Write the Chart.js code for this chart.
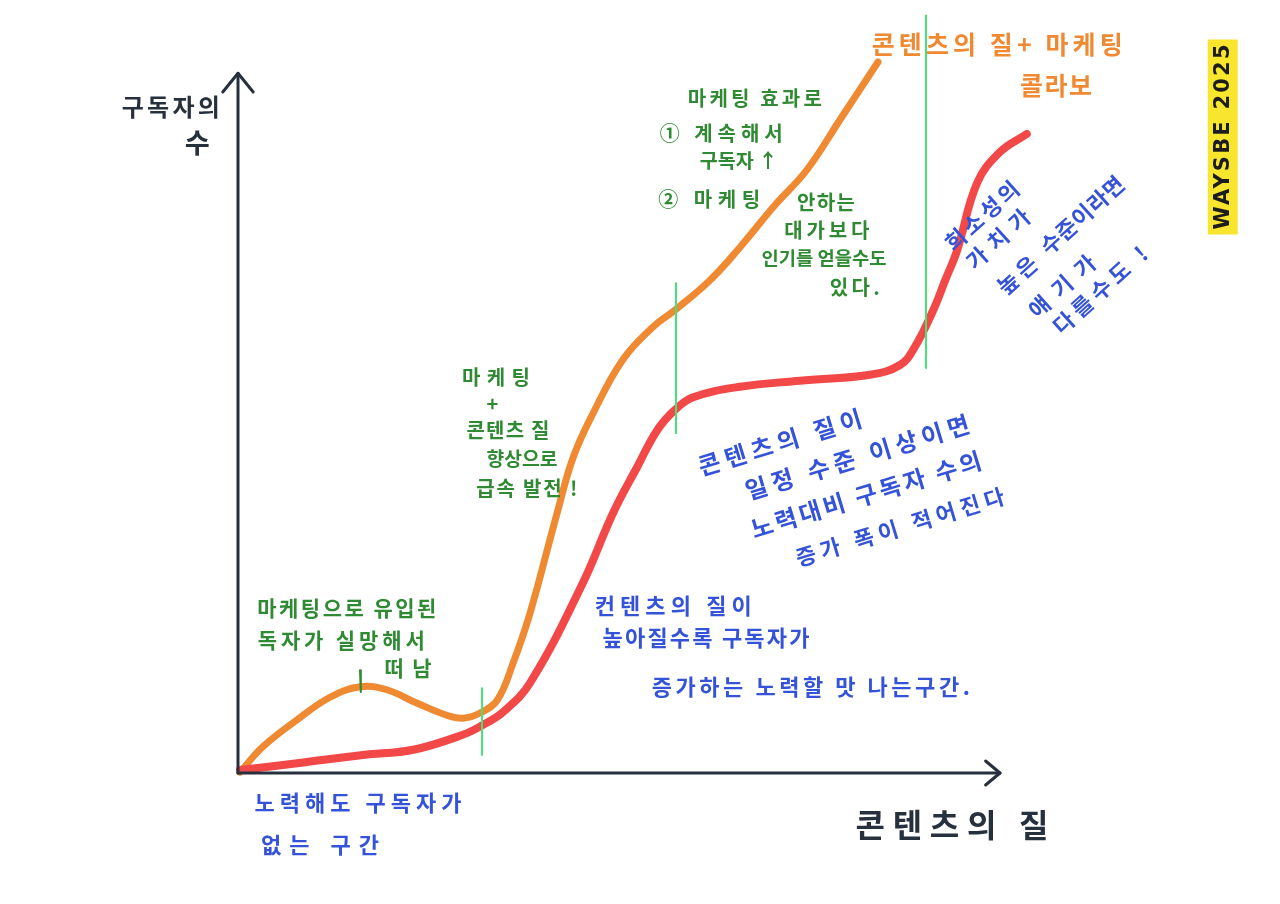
<!DOCTYPE html>
<html>
<head>
<meta charset="utf-8">
<script src="https://cdn.jsdelivr.net/npm/chart.js@4"></script>
<style>
  html, body { margin: 0; padding: 0; background: #ffffff; }
  canvas { display: block; }
</style>
</head>
<body>
<canvas id="chart" width="1280" height="904"></canvas>
<script>
// content quality (x) vs number of subscribers (y), both 0..100

// quality + marketing collab (orange)
var orangeX = [0.25, 3.1, 7.4, 11.5, 15.25, 18.6, 22.4, 26.1, 28.1, 30.25, 32.4, 34.4, 36.5, 39.9, 41.9, 44.4, 48.1, 51.9, 54.6, 59.0, 62.75, 67.1, 71.1, 75.25, 80.0];
var orangeY = [0.1, 3.5, 7.1, 10.1, 11.5, 11.1, 9.3, 7.7, 7.3, 8.0, 9.7, 14.7, 21.3, 34.7, 42.1, 48.0, 55.1, 59.5, 61.7, 65.7, 70.1, 75.7, 80.4, 87.1, 94.8];

// content quality only (red)
var redX = [0.25, 7.4, 15.6, 21.9, 28.1, 30.6, 33.1, 36.5, 43.0, 46.9, 49.9, 52.4, 54.6, 56.9, 62.75, 70.25, 79.0, 82.75, 84.6, 86.9, 88.4, 89.9, 92.4, 95.25, 98.6];
var redY = [0.4, 1.3, 2.4, 3.1, 5.1, 6.4, 8.1, 12.0, 25.1, 34.7, 40.8, 45.7, 48.4, 50.1, 51.5, 52.3, 53.1, 54.4, 56.8, 61.7, 65.7, 69.7, 78.7, 82.8, 85.2];

// green section dividers
var dividerX = [30.5, 54.75, 86];
var dividerBottom = [2.4, 45.3, 54];
var dividerTop = [11.3, 65.3, 101];

// small tick under "떠남"
var peakTickX = 15.25;
var peakTick = [13.7, 10.8];

// axis extents (with arrow heads)
var yAxisTop = 93.3;
var xAxisEnd = 95.25;

var INK = '#27303d';
var GREEN = '#2f8a33';
var BLUE = '#3553d8';
var ORANGE = '#ef8a33';
var RED = '#f24848';
var LINE_GREEN = '#45e275';

// annotations: text, x, y (data units, centre), colour, font size, target width px, rotation deg
var notes = [
  { t: '구독자의', x: -8.4, y: 88.8, c: INK, s: 24, w: 98 },
  { t: '수', x: -5.1, y: 84, c: INK, s: 30, w: 25 },
  { t: '콘텐츠의 질', x: 89.25, y: -6.9, c: INK, s: 32, w: 193 },

  { t: '노력해도 구독자가', x: 15, y: -4, c: BLUE, s: 22, w: 207 },
  { t: '없는 구간', x: 10.25, y: -9.6, c: BLUE, s: 22, w: 118 },

  { t: '마케팅으로 유입된', x: 13.6, y: 22, c: GREEN, s: 21, w: 179 },
  { t: '독자가 실망해서', x: 12.9, y: 17.7, c: GREEN, s: 21, w: 167 },
  { t: '떠남', x: 21.25, y: 14, c: GREEN, s: 21, w: 47 },

  { t: '마케팅', x: 32.25, y: 52.7, c: GREEN, s: 20, w: 68 },
  { t: '+', x: 32, y: 49.3, c: GREEN, s: 20, w: 15 },
  { t: '콘텐츠 질', x: 33.75, y: 45.7, c: GREEN, s: 20, w: 83 },
  { t: '향상으로', x: 35.5, y: 41.9, c: GREEN, s: 20, w: 71 },
  { t: '급속 발전 !', x: 36.1, y: 37.9, c: GREEN, s: 20, w: 101 },

  { t: '마케팅 효과로', x: 64.6, y: 89.9, c: GREEN, s: 20, w: 134 },
  { t: '① 계속해서', x: 60.4, y: 85.3, c: GREEN, s: 20, w: 123 },
  { t: '구독자 ↑', x: 62.6, y: 81.7, c: GREEN, s: 20, w: 78 },
  { t: '② 마케팅', x: 58.9, y: 76.5, c: GREEN, s: 20, w: 102 },
  { t: '안하는', x: 73.5, y: 76.1, c: GREEN, s: 20, w: 58 },
  { t: '대가보다', x: 73.6, y: 72.4, c: GREEN, s: 20, w: 85 },
  { t: '인기를 얻을수도', x: 73.25, y: 68.7, c: GREEN, s: 20, w: 125 },
  { t: '있다.', x: 77.1, y: 64.8, c: GREEN, s: 20, w: 50 },

  { t: '콘텐츠의 질+ 마케팅', x: 94.9, y: 97.2, c: ORANGE, s: 25, w: 251 },
  { t: '콜라보', x: 102.25, y: 91.7, c: ORANGE, s: 25, w: 72 },

  { t: '콘텐츠의 질이', x: 67.75, y: 44.1, c: BLUE, s: 24, w: 170, r: -17 },
  { t: '일정 수준 이상이면', x: 77.4, y: 42.1, c: BLUE, s: 24, w: 233, r: -17 },
  { t: '노력대비 구독자 수의', x: 78.5, y: 37.1, c: BLUE, s: 24, w: 240, r: -17 },
  { t: '증가 폭이 적어진다', x: 82.75, y: 32.8, c: BLUE, s: 22, w: 217, r: -17 },

  { t: '컨텐츠의 질이', x: 54.4, y: 22.3, c: BLUE, s: 22, w: 157 },
  { t: '높아질수록 구독자가', x: 58.5, y: 18.1, c: BLUE, s: 22, w: 207 },
  { t: '증가하는 노력할 맛 나는구간.', x: 71.6, y: 11.5, c: BLUE, s: 22, w: 318 },

  { t: '희소성의', x: 93, y: 74.3, c: BLUE, s: 22, w: 91, r: -42 },
  { t: '가치가', x: 95, y: 71.2, c: BLUE, s: 22, w: 77, r: -42 },
  { t: '높은', x: 97.4, y: 66.4, c: BLUE, s: 22, w: 45, r: -42 },
  { t: '수준이라면', x: 105.5, y: 74.4, c: BLUE, s: 22, w: 104, r: -42 },
  { t: '얘기가', x: 103, y: 64.9, c: BLUE, s: 22, w: 81, r: -42 },
  { t: '다를수도 !', x: 107.75, y: 64.4, c: BLUE, s: 22, w: 118, r: -42 }
];

// yellow stamp on the right
var stamp = { t: 'WAYSBE 2025', x: 123.1, y: 84.8, w: 185, boxW: 30, boxH: 195 };

function zip(xs, ys) {
  return xs.map(function(x, i) { return { x: x, y: ys[i] }; });
}

function lineSet(data, color, width, extra) {
  var ds = {
    data: data,
    showLine: true,
    borderColor: color,
    backgroundColor: color,
    borderWidth: width,
    pointRadius: 0,
    borderCapStyle: 'round',
    borderJoinStyle: 'round',
    clip: false,
    fill: false
  };
  for (var k in extra) ds[k] = extra[k];
  return ds;
}

var datasets = [];

// axes with arrow heads
datasets.push(lineSet([{ x: 0, y: 0 }, { x: 0, y: yAxisTop }], INK, 3));
datasets.push(lineSet([{ x: -1.9, y: yAxisTop - 2.5 }, { x: 0, y: yAxisTop }, { x: 1.9, y: yAxisTop - 2.5 }], INK, 3));
datasets.push(lineSet([{ x: 0, y: 0 }, { x: xAxisEnd, y: 0 }], INK, 3));
datasets.push(lineSet([{ x: xAxisEnd - 1.8, y: 1.6 }, { x: xAxisEnd, y: 0 }, { x: xAxisEnd - 1.8, y: -1.6 }], INK, 3));

// dividers
dividerX.forEach(function(x, i) {
  datasets.push(lineSet([{ x: x, y: dividerBottom[i] }, { x: x, y: dividerTop[i] }], LINE_GREEN, 2));
});
datasets.push(lineSet([{ x: peakTickX, y: peakTick[0] }, { x: peakTickX + 0.1, y: peakTick[1] }], GREEN, 2));

// curves
datasets.push(lineSet(zip(redX, redY), RED, 8, { tension: 0.4 }));
datasets.push(lineSet(zip(orangeX, orangeY), ORANGE, 7, { tension: 0.4 }));

var FONT = '"Noto Sans CJK KR", "Noto Sans", sans-serif';

function fitText(ctx, text, size, width) {
  ctx.letterSpacing = '0px';
  ctx.font = 'bold ' + size + 'px ' + FONT;
  var m = ctx.measureText(text).width;
  if (m > width) {
    size = size * width / m;
    ctx.font = 'bold ' + size + 'px ' + FONT;
    m = ctx.measureText(text).width;
  }
  var n = Array.from(text).length;
  return n > 1 ? (width - m) / (n - 1) : 0;
}

var notesPlugin = {
  id: 'notes',
  afterDraw: function(chart) {
    var ctx = chart.ctx;
    var xs = chart.scales.x, ys = chart.scales.y;

    notes.forEach(function(n) {
      var px = xs.getPixelForValue(n.x);
      var py = ys.getPixelForValue(n.y);
      ctx.save();
      ctx.translate(px, py);
      if (n.r) ctx.rotate(n.r * Math.PI / 180);
      var ls = fitText(ctx, n.t, n.s, n.w);
      ctx.letterSpacing = ls + 'px';
      ctx.fillStyle = n.c;
      ctx.textAlign = 'left';
      ctx.textBaseline = 'middle';
      ctx.fillText(n.t, -n.w / 2, 0);
      ctx.restore();
    });

    // stamp
    var sx = xs.getPixelForValue(stamp.x);
    var sy = ys.getPixelForValue(stamp.y);
    ctx.save();
    ctx.translate(sx, sy);
    ctx.rotate(-Math.PI / 2);
    ctx.fillStyle = '#f8e62e';
    ctx.fillRect(-stamp.boxH / 2, -stamp.boxW / 2, stamp.boxH, stamp.boxW);
    ctx.letterSpacing = '0px';
    ctx.font = '600 21px "DejaVu Sans", sans-serif';
    var m = ctx.measureText(stamp.t).width;
    var ls = (stamp.w - m) / (stamp.t.length - 1);
    ctx.letterSpacing = ls + 'px';
    ctx.fillStyle = '#1c1c1c';
    ctx.textAlign = 'left';
    ctx.textBaseline = 'middle';
    ctx.fillText(stamp.t, -stamp.w / 2, 1);
    ctx.restore();
  }
};

new Chart(document.getElementById('chart').getContext('2d'), {
  type: 'scatter',
  data: { datasets: datasets },
  options: {
    responsive: false,
    animation: false,
    layout: { padding: { left: 238, right: 242, top: 23, bottom: 131 } },
    plugins: { legend: { display: false }, tooltip: { enabled: false } },
    scales: {
      x: { type: 'linear', min: 0, max: 100, display: false },
      y: { type: 'linear', min: 0, max: 100, display: false }
    }
  },
  plugins: [notesPlugin]
});
</script>
</body>
</html>
